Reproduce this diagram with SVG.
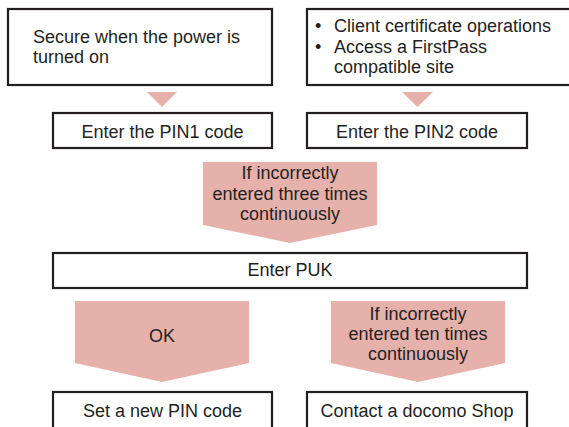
<svg xmlns="http://www.w3.org/2000/svg" width="569" height="427" viewBox="0 0 569 427">
<style>
.box{fill:#fff;stroke:#231f20;stroke-width:2.2}
.arr{fill:#e6b1ab}
text{font-family:"Liberation Sans",Arial,sans-serif;font-size:18px;fill:#231f20}
.c{text-anchor:middle}
</style>
<rect width="569" height="427" fill="#fff"/>
<g id="connectors">
<polygon class="arr" points="147,92 177,92 162,107"/>
<polygon class="arr" points="402,92 433,92 417.5,107"/>
<polygon class="arr" points="203,162 377,162 377,225 290,243 203,225"/>
<polygon class="arr" points="75,301 249,301 249,363 162,382 75,363"/>
<polygon class="arr" points="331,301 505,301 505,363 418,382 331,363"/>
</g>
<g id="secure">
<rect class="box" x="8" y="9" width="264" height="76"/>
<text x="33" y="43">Secure when the power is</text>
<text x="33" y="63">turned on</text>
</g>
<g id="client">
<rect class="box" x="307" y="9" width="280" height="76"/>
<text x="315" y="32">•</text>
<text x="334" y="32">Client certificate operations</text>
<text x="315" y="53">•</text>
<text x="334" y="53">Access a FirstPass</text>
<text x="334" y="73">compatible site</text>
</g>
<g id="pin1">
<rect class="box" x="53" y="113" width="219" height="35"/>
<text class="c" x="162.5" y="137.5">Enter the PIN1 code</text>
</g>
<g id="pin2">
<rect class="box" x="307" y="113" width="220" height="35"/>
<text class="c" x="417" y="137.5">Enter the PIN2 code</text>
</g>
<g id="three">
<text class="c" x="290" y="179">If incorrectly</text>
<text class="c" x="290" y="199.5">entered three times</text>
<text class="c" x="290" y="220">continuously</text>
</g>
<g id="puk">
<rect class="box" x="53" y="253" width="474" height="35"/>
<text class="c" x="290" y="276">Enter PUK</text>
</g>
<g id="ok">
<text class="c" x="162" y="341.5">OK</text>
</g>
<g id="ten">
<text class="c" x="418" y="319.5">If incorrectly</text>
<text class="c" x="418" y="340">entered ten times</text>
<text class="c" x="418" y="360">continuously</text>
</g>
<g id="newpin">
<rect class="box" x="53" y="392" width="219" height="45"/>
<text class="c" x="162.5" y="417">Set a new PIN code</text>
</g>
<g id="shop">
<rect class="box" x="307" y="392" width="220" height="45"/>
<text class="c" x="417" y="417">Contact a docomo Shop</text>
</g>
</svg>
